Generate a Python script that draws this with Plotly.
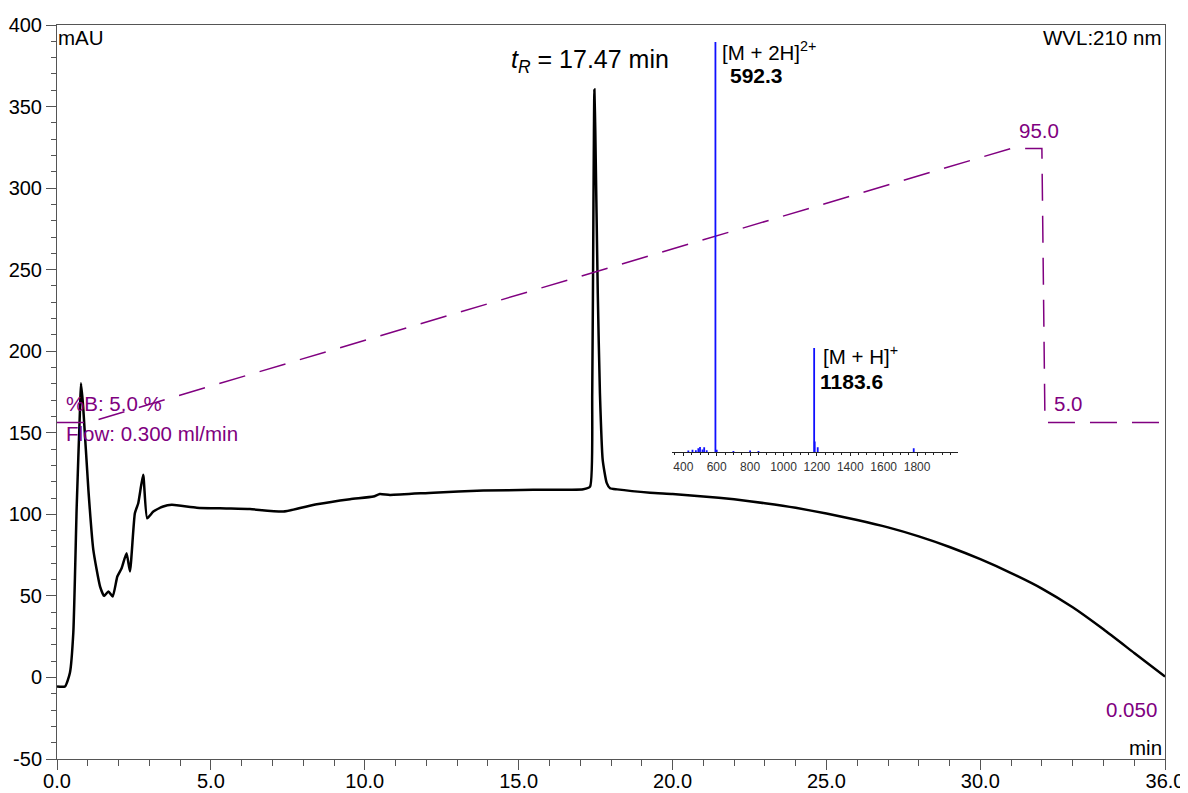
import plotly.graph_objects as go

# ---------------- data ----------------
# UV chromatogram (time in min, absorbance in mAU)
chrom_time = [0.0, 0.26, 0.42, 0.53, 0.64, 0.75, 0.78, 0.85, 1.02, 1.18, 1.40, 1.53, 1.67, 1.81,
              1.96, 2.10, 2.26, 2.37, 2.53, 2.64, 2.80, 2.93, 3.13, 3.45, 3.73, 4.54, 5.5, 6.27,
              7.35, 8.44, 9.52, 10.28, 10.49, 10.82, 12.23, 13.85, 15.47, 17.10, 17.32, 17.39,
              17.43, 17.46, 17.49, 17.57, 17.64, 17.73, 17.86, 17.97, 18.2, 19.27, 20.0, 21.0,
              22.0, 23.0, 24.0, 25.0, 26.0, 27.0, 28.0, 29.0, 30.0, 31.0, 32.0, 33.0, 34.0,
              35.0, 36.0]
chrom_mau = [-5.5, -5.5, 2.9, 27.4, 104.8, 166.0, 180.3, 166.0, 115.0, 78.2, 55.7, 50.0, 52.7,
             49.6, 61.9, 67.0, 76.2, 65.0, 100.7, 106.8, 124.2, 97.6, 101.7, 104.8, 105.8, 104.1,
             103.6, 103.2, 101.7, 106.2, 109.3, 110.9, 112.5, 111.9, 113.3, 114.6, 115.0, 115.4,
             117.0, 174.4, 290.0, 360.5, 335.0, 235.7, 174.4, 133.4, 119.3, 116.0, 115.3, 113.3,
             112.5, 111.0, 109.2, 106.8, 104.0, 100.5, 96.5, 92.0, 86.5, 80.0, 72.5, 64.0, 54.5,
             43.0, 29.5, 15.0, 0.5]

# Gradient program (%B)
grad_time = [0.0, 1.0, 31.0, 32.0, 32.1, 36.0]
grad_b = [5.0, 5.0, 95.0, 95.0, 5.0, 5.0]

# Mass spectrum (m/z, relative intensity %)
ms_mz = [430, 455, 475, 490, 500, 515, 525, 540, 592.3, 600, 700, 800, 850,
         1183.6, 1187, 1205, 1780]
ms_int = [0.4, 0.6, 0.5, 1.0, 1.3, 0.7, 1.2, 0.5, 100, 0.6, 0.3, 0.4, 0.3,
          25.4, 2.6, 1.2, 1.0]

x_ticks = [0, 5, 10, 15, 20, 25, 30, 36]
y_ticks = [-50, 0, 50, 100, 150, 200, 250, 300, 350, 400]
ms_ticks = [400, 600, 800, 1000, 1200, 1400, 1600, 1800]

# ---------------- figure ----------------
PURPLE = "#800080"
FONT = "Liberation Sans, Arial, sans-serif"
CLEAR = "rgba(0,0,0,0)"

fig = go.Figure()

fig.add_trace(go.Scatter(x=chrom_time, y=chrom_mau, mode="lines",
                         line=dict(color="black", width=2.5, shape="spline", smoothing=0.5),
                         xaxis="x", yaxis="y", hoverinfo="skip"))

fig.add_trace(go.Scatter(x=grad_time, y=grad_b, mode="lines",
                         line=dict(color=PURPLE, width=1.5, dash="27px,15px"),
                         xaxis="x", yaxis="y3", hoverinfo="skip"))

stick_x, stick_y = [], []
for m, i in zip(ms_mz, ms_int):
    stick_x += [m, m, None]
    stick_y += [0, i, None]
fig.add_trace(go.Scatter(x=stick_x, y=stick_y, mode="lines",
                         line=dict(color="#1010ff", width=1.8),
                         xaxis="x2", yaxis="y2", hoverinfo="skip"))

# the page body adds an 8 px margin, so the figure is 8 px smaller on each axis
fig.update_layout(
    width=1180, height=785,
    margin=dict(l=49, r=23, t=17, b=34),
    paper_bgcolor="white", plot_bgcolor=CLEAR,
    showlegend=False,
    font=dict(family=FONT, color="black"),
    xaxis=dict(range=[0, 36], tickvals=x_ticks, ticktext=[f"{v:.1f}" for v in x_ticks],
               ticks="outside", ticklen=10, tickcolor="#555", showline=True, linecolor="#555",
               linewidth=1, mirror=True, showgrid=False, zeroline=False, automargin=False,
               ticklabelstandoff=-6,
               tickfont=dict(size=20, color="black"),
               minor=dict(dtick=1, ticks="outside", ticklen=6, tickcolor="#555")),
    yaxis=dict(range=[-50, 400], tickvals=y_ticks, ticktext=[str(v) for v in y_ticks],
               ticks="outside", ticklen=10,
               tickcolor="#555", showline=True, linecolor="#555", linewidth=1, mirror=True,
               showgrid=False, zeroline=False, automargin=False,
               tickfont=dict(size=20, color="black"),
               minor=dict(dtick=10, ticks="outside", ticklen=5, tickcolor="#555")),
    yaxis3=dict(overlaying="y", range=[-105.4, 135.5], visible=False, automargin=False),
    xaxis2=dict(domain=[0.5548, 0.8134], anchor="y2", range=[330.5, 2046.7],
                tickvals=ms_ticks, ticks="outside", ticklen=3, tickcolor="#222",
                showline=True, linecolor="#222", linewidth=1.2, showgrid=False,
                zeroline=False, automargin=False, tickfont=dict(size=12, color="#333"),
                minor=dict(dtick=50, ticks="outside", ticklen=2, tickcolor="#222")),
    yaxis2=dict(domain=[0.4179, 0.9769], anchor="x2", range=[0, 100], visible=False,
                automargin=False),
)

ann = []
def add(text, x, y, xanchor="left", size=20.5, color="black", xref="x", yref="y"):
    ann.append(dict(text=text, x=x, y=y, xref=xref, yref=yref, xanchor=xanchor,
                    yanchor="middle", showarrow=False, borderpad=0,
                    font=dict(size=size, color=color, family=FONT)))

add("mAU", 0.0, 392.2)
add("WVL:210 nm", 35.95, 392.5, xanchor="right")
add("min", 35.95, -43.1, xanchor="right")
add("0.050", 35.76, -19.8, xanchor="right", color=PURPLE)
add("%B: 5.0 %", 0.25, 167.7, color=PURPLE)
add("Flow: 0.300 ml/min", 0.25, 149.3, color=PURPLE)
add("95.0", 31.92, 335.5, xanchor="center", color=PURPLE)
add("5.0", 32.35, 167.7, color=PURPLE)
add("<i>t</i><sub><i>R</i></sub> = 17.47 min", 17.33, 378.0, xanchor="center", size=25)
add("[M + 2H]<sup>2+</sup>", 625, 97.8, xref="x2", yref="y2")
add("<b>592.3</b>", 675, 91.8, size=21, xref="x2", yref="y2")
add("[M + H]<sup>+</sup>", 1228, 23.6, xref="x2", yref="y2")
add("<b>1183.6</b>", 1214, 17.3, size=21, xref="x2", yref="y2")
add("m/z", 2013, -2.4, xanchor="center", size=9, color="#333", xref="x2", yref="y2")
fig.update_layout(annotations=ann)

fig.write_html("out.html")
